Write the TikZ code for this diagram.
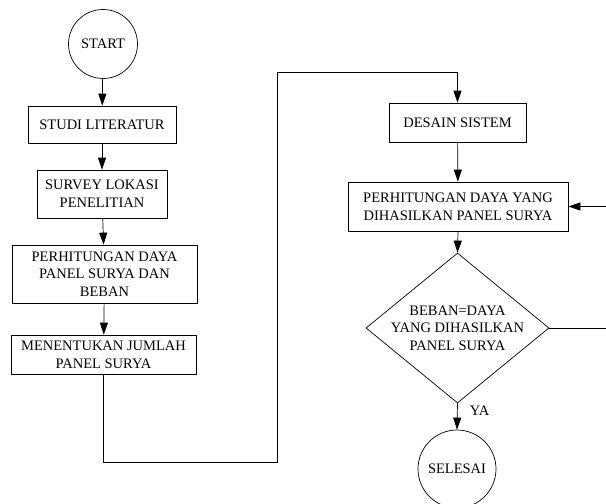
\documentclass[tikz,border=0pt]{standalone}
\usepackage{fontspec}
\setmainfont{Liberation Serif}
\usetikzlibrary{arrows.meta, shapes.geometric}
\tikzset{block/.style={draw, rectangle, align=center, inner sep=0pt, line width=0.7pt}}
\tikzset{terminal/.style={draw, circle, inner sep=0pt, line width=0.7pt}}
\tikzset{decision/.style={draw, diamond, inner sep=0pt, line width=0.7pt}}
\tikzset{flow/.style={-{Triangle[length=12pt, width=8pt]}, line width=0.7pt}}

\begin{document}
\begin{tikzpicture}[x=1pt, y=-1pt, font=\fontsize{14.5}{17.7}\selectfont]
            \clip (0, 0) rectangle (606, 504);
            \node[terminal, minimum size=69] (start) at (103, 44) {START};
            \node[block, minimum width=148, minimum height=37] (studi) at (102, 124.5) {STUDI LITERATUR};
            \node[block, minimum width=130, minimum height=48] (survey) at (102, 194) {SURVEY LOKASI\\PENELITIAN};
            \node[block, minimum width=185, minimum height=58] (hitung1) at (104.5, 274) {PERHITUNGAN DAYA\\PANEL SURYA DAN\\BEBAN};
            \node[block, minimum width=185, minimum height=39] (jumlah) at (103.5, 354.5) {MENENTUKAN JUMLAH\\PANEL SURYA};
            \node[block, minimum width=137, minimum height=39] (desain) at (457.5, 122.5) {DESAIN SISTEM};
            \node[block, minimum width=220, minimum height=49] (hitung2) at (458, 206.5) {PERHITUNGAN DAYA YANG\\DIHASILKAN PANEL SURYA};
            \node[decision, minimum width=183, minimum height=150] (dec) at (457.5, 328) {};
            \node[align=center] (dectext) at (dec) {BEBAN=DAYA\\YANG DIHASILKAN\\PANEL SURYA};
            \node[terminal, minimum size=78] (selesai) at (457, 469) {SELESAI};
            % arus utama
            \draw[flow] (start) -- (studi);
            \draw[flow] (studi) -- (survey);
            \draw[flow] (survey) -- (hitung1);
            \draw[flow] (hitung1) -- (jumlah);
            \draw[flow] (jumlah.south) -- ++(0, 88) -| (277, 72) -| (desain.north);
            \draw[flow] (desain) -- (hitung2);
            \draw[flow] (hitung2.south) -- (dec.north);
            \draw[flow] (dec.south) -- node[right, xshift=9pt, yshift=6pt] (ya) {YA} (selesai.north);
            % umpan balik
            \draw[flow] (dec.east) -- ++(80, 0) |- (hitung2.east);
        \end{tikzpicture}
\end{document}
